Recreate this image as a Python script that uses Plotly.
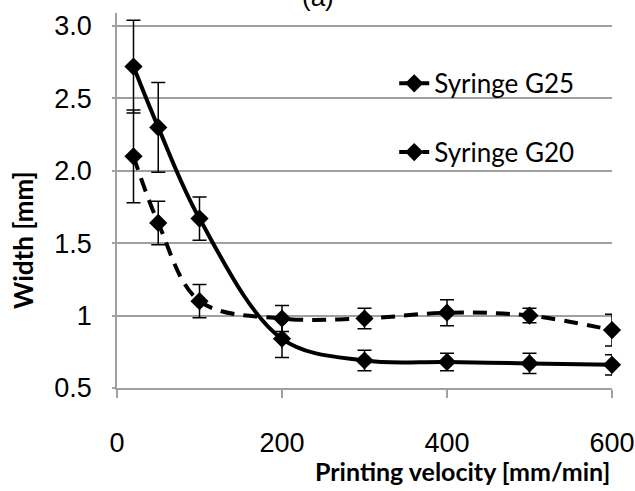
import plotly.graph_objects as go

velocity = [20, 50, 100, 200, 300, 400, 500, 600]
g25_width = [2.72, 2.30, 1.67, 0.84, 0.69, 0.68, 0.67, 0.66]
g25_err = [0.32, 0.31, 0.15, 0.13, 0.07, 0.06, 0.07, 0.07]
g20_width = [2.10, 1.64, 1.10, 0.98, 0.98, 1.02, 1.00, 0.90]
g20_err = [0.32, 0.15, 0.115, 0.09, 0.07, 0.09, 0.05, 0.11]
y_ticks = [0.5, 1, 1.5, 2.0, 2.5, 3.0]
y_tick_labels = ["0.5", "1", "1.5", "2.0", "2.5", "3.0"]
x_ticks = [0, 200, 400, 600]

fig = go.Figure()
fig.add_trace(go.Scatter(
    x=velocity, y=g25_width, name="Syringe G25", mode="lines+markers",
    line=dict(color="black", width=4, shape="spline", smoothing=1.0),
    marker=dict(symbol="diamond", size=14, color="black"),
    error_y=dict(type="data", array=g25_err, color="black", thickness=1.5, width=7),
    cliponaxis=False, legendgroup="a"))
fig.add_trace(go.Scatter(
    x=velocity, y=g20_width, name="Syringe G20", mode="lines+markers",
    line=dict(color="black", width=4, shape="spline", smoothing=1.0, dash="14px,9px"),
    marker=dict(symbol="diamond", size=14, color="black"),
    error_y=dict(type="data", array=g20_err, color="black", thickness=1.5, width=7),
    cliponaxis=False, legendgroup="b"))

fig.update_layout(
    width=635, height=491,
    margin=dict(l=117, r=23, t=13, b=103, autoexpand=False),
    plot_bgcolor="white", paper_bgcolor="white",
    font=dict(family="Liberation Sans, Arial", color="black", size=27),
    showlegend=True,
    legend=dict(x=0.56, y=0.875, xanchor="left", yanchor="top",
                font=dict(family="Lato", size=26, color="black"),
                tracegroupgap=32, bgcolor="rgba(0,0,0,0)"),
    xaxis=dict(range=[0, 600], tickvals=x_ticks, showgrid=False, automargin=False,
               showline=True, linecolor="#a0a0a0", linewidth=1.5,
               ticks="outside", ticklen=8, tickcolor="#a0a0a0", tickwidth=1.5,
               ticklabelstandoff=22, zeroline=False),
    yaxis=dict(range=[0.5, 3.09], tickvals=y_ticks, ticktext=y_tick_labels, automargin=False,
               showgrid=True, gridcolor="#a0a0a0", gridwidth=1.5,
               showline=True, linecolor="#a0a0a0", linewidth=1.5,
               ticks="outside", ticklen=3, tickcolor="#a0a0a0", tickwidth=1.5,
               ticklabelstandoff=15, zeroline=False),
)

fig.add_annotation(text="<b>Printing velocity [mm/min]</b>", xref="paper", yref="paper",
                   x=1, y=0, xanchor="right", yanchor="middle", yshift=-83,
                   showarrow=False, font=dict(family="Lato", size=25, color="black"))
fig.add_annotation(text="<b>Width [mm]</b>", xref="paper", yref="paper",
                   x=0, y=(388 - 240) / 375, xanchor="center", yanchor="middle", xshift=-94,
                   textangle=-90, showarrow=False, font=dict(family="Lato", size=26, color="black"))
fig.add_annotation(text="(a)", xref="paper", yref="paper",
                   x=(318 - 117) / 495, y=1, xanchor="center", yanchor="middle", yshift=16,
                   showarrow=False, font=dict(family="Liberation Sans", size=26, color="black"))

fig.write_html("out.html", config={"displayModeBar": False},
               post_script="document.body.style.margin='0';document.body.style.overflow='hidden';")
